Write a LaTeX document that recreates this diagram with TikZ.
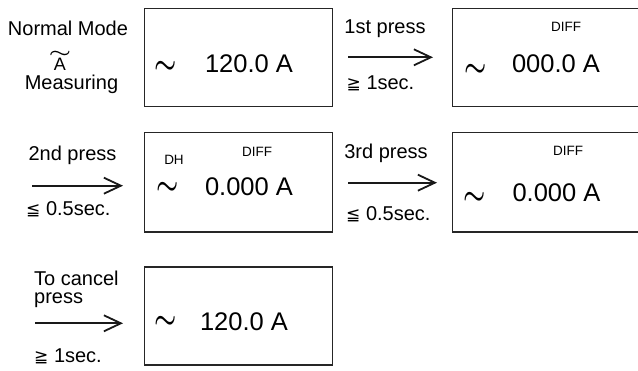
\documentclass[tikz,border=0pt]{standalone}
\usepackage{graphicx}
\usepackage{fontspec}
\setmainfont{Liberation Sans}
\newfontfamily\symfont{DejaVu Sans}
\usetikzlibrary{arrows.meta}
\tikzset{
  lcd/.style={draw=black!85, line width=1.3pt, inner sep=0pt},
  lbl/.style={font=\fontsize{20}{20}\selectfont, inner sep=0pt},
  dsp/.style={font=\fontsize{25.5}{26}\selectfont, inner sep=0pt, anchor=base},
  ind/.style={font=\fontsize{13.5}{14}\selectfont, inner sep=0pt, anchor=base},
  wave/.style={inner sep=0pt, anchor=center},
  press/.style={-{Straight Barb[length=17pt,width=16pt]}, line width=1.8pt, draw=black!90},
}
\newcommand{\geqq}{{\symfont\fontsize{17}{17}\selectfont ≧}}
\newcommand{\leqq}{{\symfont\fontsize{17}{17}\selectfont ≦}}
% display tilde: box made to match the ink of the glyph
\newcommand{\dtil}{\raisebox{-4.35pt}[7.5pt][0pt]{\scalebox{1}[1.25]{\fontsize{26}{26}\selectfont\boldmath$\sim$}}}
\newcommand{\atil}{\raisebox{-3.6pt}[7pt][0pt]{\scalebox{1}[0.65]{\fontsize{50}{50}\selectfont\boldmath$\sim$}}}
\begin{document}
\begin{tikzpicture}[x=1pt,y=-1pt]
\useasboundingbox (0,0) rectangle (638,370);

% ---- row 1 ----
\node[lbl, anchor=base] (nm) at (68,35) {Normal Mode};
\node[wave] (nmw) at (60,50) {\atil};
\node[font=\fontsize{18}{18}\selectfont, inner sep=0pt, anchor=base] (nma) at (60,70.7) {A};
\node[lbl, anchor=base] (meas) at (71.5,89) {Measuring};

\node[lcd, minimum width=188.4pt, minimum height=98.2pt] (b1) at (238.5,57.6) {};
\node[wave] (b1w) at (165.8,65.8) {\dtil};
\node[dsp] (b1t) at (249,72.7) {120.0 A};

\node[lbl, anchor=base] (p1) at (385,33) {1st press};
\coordinate (a1s) at (348,57.3);
\coordinate (a1e) at (433,57.3);
\draw[press] (a1s) -- (a1e);
\node[lbl, anchor=base west] (t1) at (346.5,89) {\geqq\ 1sec.};

\node[lcd, minimum width=192.3pt, minimum height=98.2pt] (b2) at (548.85,57.6) {};
\node[ind] (b2d) at (566,31.7) {DIFF};
\node[wave] (b2w) at (476,68) {\dtil};
\node[dsp] (b2t) at (556,72.7) {000.0 A};

% ---- row 2 ----
\node[lbl, anchor=base] (p2) at (72.5,160) {2nd press};
\coordinate (a2s) at (32,185.7);
\coordinate (a2e) at (123,185.7);
\draw[press] (a2s) -- (a2e);
\node[lbl, anchor=base west] (t2) at (26,215) {\leqq\ 0.5sec.};

\node[lcd, minimum width=188.4pt, minimum height=99.3pt] (b3) at (238.5,182.35) {};
\node[ind] (b3h) at (174,164.7) {DH};
\node[ind] (b3d) at (257,156.3) {DIFF};
\node[wave] (b3w) at (167.5,186.5) {\dtil};
\node[dsp] (b3t) at (249,195) {0.000 A};

\node[lbl, anchor=base] (p3) at (386,158) {3rd press};
\coordinate (a3s) at (348,182.7);
\coordinate (a3e) at (437,182.7);
\draw[press] (a3s) -- (a3e);
\node[lbl, anchor=base west] (t3) at (346,220) {\leqq\ 0.5sec.};

\node[lcd, minimum width=192.3pt, minimum height=99.3pt] (b4) at (548.85,182.35) {};
\node[ind] (b4d) at (568,155) {DIFF};
\node[wave] (b4w) at (475,196) {\dtil};
\node[dsp] (b4t) at (556.5,201.7) {0.000 A};

% ---- row 3 ----
\node[lbl, anchor=base west] (c1) at (34,285) {To cancel};
\node[lbl, anchor=base west] (c2) at (34,303.3) {press};
\coordinate (a4s) at (35,323.3);
\coordinate (a4e) at (123,323.3);
\draw[press] (a4s) -- (a4e);
\node[lbl, anchor=base west] (t4) at (34,362) {\geqq\ 1sec.};

\node[lcd, minimum width=188pt, minimum height=98pt] (b5) at (238.3,316) {};
\node[wave] (b5w) at (165.5,320.5) {\dtil};
\node[dsp] (b5t) at (244,330) {120.0 A};
\end{tikzpicture}
\end{document}
